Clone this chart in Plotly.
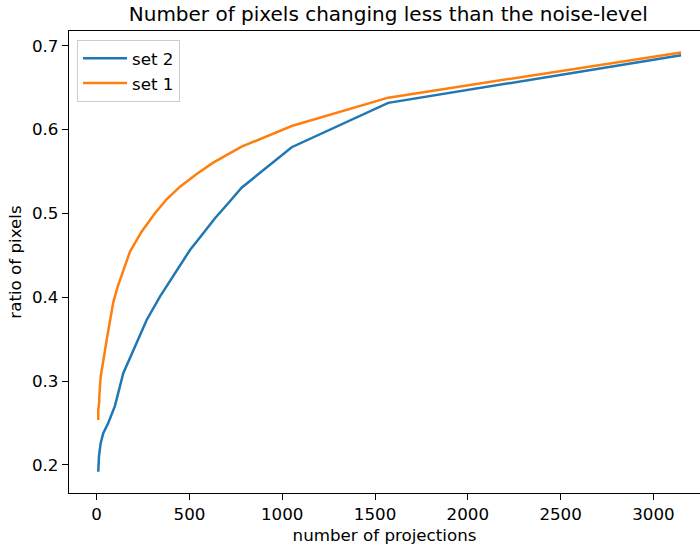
import plotly.graph_objects as go

# Projections count vs. ratio of pixels below the noise level
set2_x = [8.6, 12.4, 21.6, 35.6, 62.5, 89.5, 98.6, 143.5, 215.5, 269.5, 341, 440,
          503, 574.5, 637.5, 709, 781, 1051, 1571, 3149]
set2_y = [0.192, 0.210, 0.226, 0.238, 0.250, 0.266, 0.2705, 0.3094, 0.3451, 0.3729, 0.4007,
          0.4346, 0.4564, 0.4763, 0.4942, 0.5121, 0.5307, 0.5789, 0.6318, 0.6885]

set1_x = [8.6, 8.6, 14.0, 14.0, 21.6, 35.6, 39.3, 53.9, 71.7, 89.5, 113, 143.5, 179.5,
          242.2, 314, 377, 449, 539, 628, 781, 1051, 1571, 3149]
set1_y = [0.2537, 0.2656, 0.2755, 0.2800, 0.3053, 0.3213, 0.329, 0.349, 0.373, 0.394,
          0.4125, 0.4325, 0.4544, 0.4782, 0.5001, 0.5168, 0.5319, 0.547, 0.5605, 0.5796,
          0.6042, 0.6380, 0.6920]

x_ticks = [0, 500, 1000, 1500, 2000, 2500, 3000]
y_ticks = [0.2, 0.3, 0.4, 0.5, 0.6, 0.7]

FONT = "DejaVu Sans"
TICK_SIZE = 16.7

fig = go.Figure()
fig.add_trace(go.Scatter(x=set2_x, y=set2_y, mode="lines", name="set 2",
                         line=dict(color="#1f77b4", width=2.5)))
fig.add_trace(go.Scatter(x=set1_x, y=set1_y, mode="lines", name="set 1",
                         line=dict(color="#ff7f0e", width=2.5)))

axis_common = dict(showgrid=False, zeroline=False, showline=True, linecolor="black",
                   linewidth=1.3, ticks="outside", ticklen=6, tickwidth=1.3,
                   tickcolor="black",
                   tickfont=dict(family=FONT, size=TICK_SIZE, color="black"))

fig.update_layout(
    width=700, height=548,
    margin=dict(l=69, r=0, t=31, b=55),
    paper_bgcolor="white", plot_bgcolor="white",
    font=dict(family=FONT, color="black"),
    title=dict(text="Number of pixels changing less than the noise-level",
               font=dict(family=FONT, size=20, color="black"),
               x=0.506, xref="paper", xanchor="center",
               y=0.988, yref="container", yanchor="top"),
    xaxis=dict(range=[-149, 3251], tickvals=x_ticks, mirror=True,
               title=dict(text="number of projections",
                          font=dict(family=FONT, size=TICK_SIZE, color="black"),
                          standoff=6),
               **axis_common),
    yaxis=dict(range=[0.1666, 0.7175], tickvals=y_ticks, tickformat=".1f",
               title=dict(text="ratio of pixels",
                          font=dict(family=FONT, size=TICK_SIZE, color="black"),
                          standoff=6),
               **axis_common),
    legend=dict(x=0.0127, y=0.9805, xanchor="left", yanchor="top", itemwidth=44,
                bgcolor="rgba(255,255,255,0.8)", bordercolor="#cccccc", borderwidth=1,
                font=dict(family=FONT, size=TICK_SIZE, color="black")),
)

fig.write_html("out.html")
